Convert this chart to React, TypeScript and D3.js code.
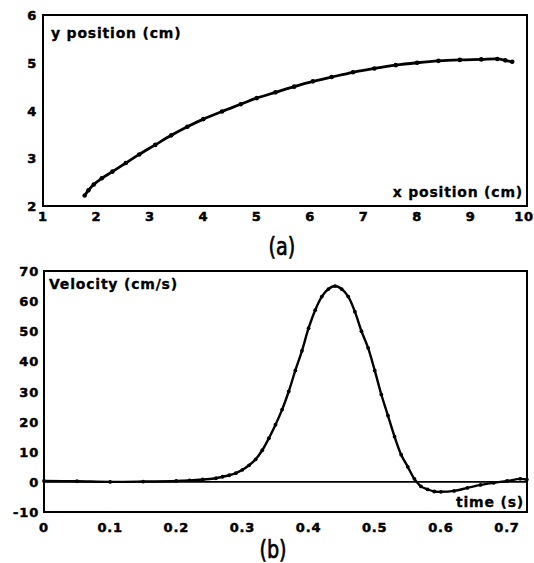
import React from "react";
import * as d3 from "d3";

// Panel (a): trajectory
const posX = [1.78, 1.85, 1.95, 2.1, 2.3, 2.55, 2.8, 3.1, 3.4, 3.7, 4.0, 4.35, 4.7, 5.0, 5.35, 5.7, 6.05, 6.4, 6.8, 7.2, 7.6, 8.0, 8.4, 8.8, 9.2, 9.5, 9.65, 9.78];
const posY = [2.22, 2.33, 2.45, 2.58, 2.72, 2.9, 3.08, 3.28, 3.48, 3.66, 3.82, 3.98, 4.13, 4.26, 4.38, 4.5, 4.61, 4.7, 4.8, 4.88, 4.95, 5.0, 5.04, 5.06, 5.07, 5.08, 5.05, 5.02];
const xTicksA = [1, 2, 3, 4, 5, 6, 7, 8, 9, 10];
const yTicksA = [2, 3, 4, 5, 6];

// Panel (b): velocity
const time = [0.0, 0.05, 0.1, 0.15, 0.2, 0.22, 0.24, 0.26, 0.27, 0.28, 0.29, 0.3, 0.31, 0.32, 0.33, 0.34, 0.35, 0.36, 0.37, 0.38, 0.39, 0.4, 0.41, 0.42, 0.43, 0.44, 0.45, 0.46, 0.47, 0.48, 0.49, 0.5, 0.51, 0.52, 0.53, 0.54, 0.55, 0.56, 0.57, 0.58, 0.59, 0.6, 0.62, 0.64, 0.66, 0.68, 0.7, 0.72, 0.73];
const velocity = [0.3, 0.2, 0.0, 0.1, 0.3, 0.5, 0.8, 1.2, 1.7, 2.2, 2.9, 4.0, 5.5, 7.5, 10.5, 14.5, 19, 24, 30, 37, 43.5, 51, 57, 61.5, 64, 65, 64, 61.5, 56.5, 50, 44.5, 37, 29, 22, 15, 9, 5, 1, -1.5, -2.5, -3.2, -3.3, -3.0, -2.0, -1.0, -0.3, 0.3, 1.0, 0.8];
const xTicksB = [0, 0.1, 0.2, 0.3, 0.4, 0.5, 0.6, 0.7];
const yTicksB = [-10, 0, 10, 20, 30, 40, 50, 60, 70];

const FONT = "'DejaVu Sans', sans-serif";

export default function App() {
  // Panel (a) scales
  const ax = d3.scaleLinear().domain([1, 10]).range([43, 524]);
  const ay = d3.scaleLinear().domain([2, 6]).range([206, 15]);
  const aBox = { l: 43, t: 15, r: 527, b: 206 };
  const lineA = d3
    .line<number>()
    .x((_, i) => ax(posX[i]))
    .y((d) => ay(d))
    .curve(d3.curveCatmullRom);

  // Panel (b) scales
  const bx = d3.scaleLinear().domain([0, 0.7]).range([44, 507]);
  const by = d3.scaleLinear().domain([-10, 70]).range([512, 271]);
  const bBox = { l: 44, t: 271, r: 527, b: 512 };
  const lineB = d3
    .line<number>()
    .x((_, i) => bx(time[i]))
    .y((d) => by(d))
    .curve(d3.curveCatmullRom);

  const tickStyle = {
    fontFamily: FONT, fontWeight: 700, fontSize: 13, fill: "#000",
    stroke: "#000", strokeWidth: 0.5, letterSpacing: 0.8,
  } as const;
  const labelStyle = {
    fontFamily: FONT, fontWeight: 700, fontSize: 14, fill: "#000",
    stroke: "#000", strokeWidth: 0.3, letterSpacing: 0.8,
  } as const;
  const capStyle = {
    fontFamily: FONT, fontSize: 24, fill: "#000", stroke: "#000", strokeWidth: 0.7,
  } as const;

  return (
    <svg
      width={534}
      height={563}
      style={{ position: "absolute", left: 0, top: 0, background: "#fff" }}
    >
      <rect x={0} y={0} width={534} height={563} fill="#fff" />

      {/* Panel (a) */}
      <rect x={aBox.l} y={aBox.t} width={aBox.r - aBox.l} height={aBox.b - aBox.t} fill="none" stroke="#000" strokeWidth={2} />
      {yTicksA.map((v) => (
        <text key={"ya" + v} x={37} y={ay(v) + 5} textAnchor="end" style={tickStyle}>
          {v}
        </text>
      ))}
      {xTicksA.map((v) => (
        <text key={"xa" + v} x={ax(v)} y={221} textAnchor="middle" style={tickStyle}>
          {v}
        </text>
      ))}
      <path d={lineA(posY) || ""} fill="none" stroke="#000" strokeWidth={2.8} strokeLinejoin="round" strokeLinecap="round" />
      {posY.map((v, i) => (
        <circle key={"pa" + i} cx={ax(posX[i])} cy={ay(v)} r={2.3} fill="#000" />
      ))}
      <text x={51} y={38} style={labelStyle}>y position (cm)</text>
      <text x={523} y={197} textAnchor="end" style={labelStyle}>x position (cm)</text>
      <text x={282} y={255} textAnchor="middle" style={capStyle} transform="translate(282,0) scale(0.8,1) translate(-282,0)">
        (a)
      </text>

      {/* Panel (b) */}
      <rect x={bBox.l} y={bBox.t} width={bBox.r - bBox.l} height={bBox.b - bBox.t} fill="none" stroke="#000" strokeWidth={2} />
      <line x1={bBox.l} x2={bBox.r} y1={by(0)} y2={by(0)} stroke="#000" strokeWidth={1.8} />
      {yTicksB.map((v) => (
        <text key={"yb" + v} x={39} y={by(v) + 5} textAnchor="end" style={tickStyle}>
          {v}
        </text>
      ))}
      {xTicksB.map((v) => (
        <text key={"xb" + v} x={bx(v)} y={532} textAnchor="middle" style={tickStyle}>
          {v}
        </text>
      ))}
      <path d={lineB(velocity) || ""} fill="none" stroke="#000" strokeWidth={2.4} strokeLinejoin="round" />
      {velocity.map((v, i) => (
        <circle key={"pb" + i} cx={bx(time[i])} cy={by(v)} r={1.9} fill="#000" />
      ))}
      <text x={49} y={289} style={labelStyle}>Velocity (cm/s)</text>
      <text x={524} y={507} textAnchor="end" style={labelStyle}>time (s)</text>
      <text x={273} y={558} textAnchor="middle" style={capStyle} transform="translate(273,0) scale(0.8,1) translate(-273,0)">
        (b)
      </text>
    </svg>
  );
}
